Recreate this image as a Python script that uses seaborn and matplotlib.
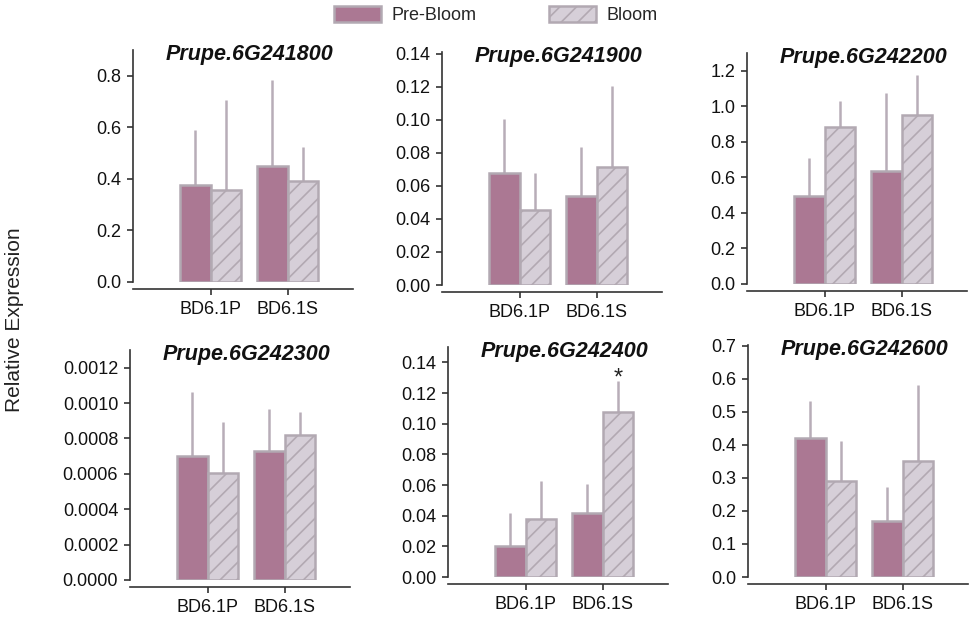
import numpy as np
import pandas as pd
import matplotlib
matplotlib.use("Agg")
import matplotlib.pyplot as plt
from matplotlib.patches import Patch
from matplotlib.ticker import FormatStrFormatter
import seaborn as sns

# ---------------- data ----------------
genes = ["Prupe.6G241800", "Prupe.6G241900", "Prupe.6G242200",
         "Prupe.6G242300", "Prupe.6G242400", "Prupe.6G242600"]
lines = ["BD6.1P", "BD6.1S"]
stages = ["Pre-Bloom", "Bloom"]

pre_bloom_mean = [[0.377, 0.450], [0.068, 0.054], [0.496, 0.634],
                  [0.000699, 0.000731], [0.0202, 0.042], [0.420, 0.171]]
pre_bloom_sd = [[0.211, 0.332], [0.0327, 0.0296], [0.213, 0.441],
                [0.000366, 0.000234], [0.0218, 0.0187], [0.112, 0.101]]
bloom_mean = [[0.357, 0.393], [0.0453, 0.0715], [0.886, 0.953],
              [0.000605, 0.000819], [0.0381, 0.1074], [0.292, 0.351]]
bloom_sd = [[0.350, 0.130], [0.0226, 0.0489], [0.142, 0.224],
            [0.000289, 0.000133], [0.0243, 0.0206], [0.121, 0.231]]

y_ticks = [np.arange(0, 0.81, 0.2), np.arange(0, 0.141, 0.02), np.arange(0, 1.21, 0.2),
           np.arange(0, 0.00121, 0.0002), np.arange(0, 0.141, 0.02), np.arange(0, 0.71, 0.1)]
y_fmt = ["%.1f", "%.2f", "%.1f", "%.4f", "%.2f", "%.1f"]
y_top = [0.9, 0.141, 1.3, 0.0013, 0.15, 0.703]
signif = [None, None, None, None, (1, "Bloom"), None]   # (line index, stage) marked with *

# ---------------- style ----------------
sns.set_theme(style="ticks")
plt.rcParams["font.family"] = ["Liberation Sans", "DejaVu Sans"]
plt.rcParams["hatch.linewidth"] = 1.2
plt.rcParams["hatch.color"] = "#988c98"

PINK = "#ab7893"
LIGHT = "#d6cfd8"
EDGE = "#b2a9b2"
ERR = "#b8adb8"
HATCH = "#988c98"
AX = "#333333"

W, H = 972, 627
fig = plt.figure(figsize=(W / 100, H / 100), dpi=100)

# panel pixel geometry: (left, top, zero-baseline)
geom = [(133, 50, 282), (442, 52, 285), (747, 53, 284),
        (130, 350, 580), (448, 347, 577), (748, 345, 577)]
width_px = 220


def style_hatch(patch):
    patch.set_hatch("//")
    if hasattr(patch, "set_hatchcolor"):
        patch.set_hatchcolor(HATCH)


for k, gene in enumerate(genes):
    l, t, b = geom[k]
    ax = fig.add_axes([l / W, (H - b) / H, width_px / W, (b - t) / H])
    df = pd.DataFrame({
        "line": lines * 2,
        "stage": [stages[0]] * 2 + [stages[1]] * 2,
        "value": list(pre_bloom_mean[k]) + list(bloom_mean[k]),
    })
    sds = {stages[0]: pre_bloom_sd[k], stages[1]: bloom_sd[k]}
    sns.barplot(data=df, x="line", y="value", hue="stage", order=lines,
                hue_order=stages, palette={stages[0]: PINK, stages[1]: LIGHT},
                width=0.8, errorbar=None, edgecolor=EDGE, linewidth=1.8,
                legend=False, ax=ax, zorder=3, saturation=1)
    bar_containers = list(ax.containers)
    for ci, cont in enumerate(bar_containers):
        st = stages[ci]
        for j, bar in enumerate(cont):
            if st == "Bloom":
                style_hatch(bar)
            x = bar.get_x() + bar.get_width() / 2
            h = bar.get_height()
            ax.errorbar(x, h, yerr=[[0], [sds[st][j]]], fmt="none",
                        ecolor=ERR, elinewidth=1.8, capsize=0, zorder=2)
            if signif[k] is not None and signif[k] == (j, st):
                ax.annotate("*", xy=(x, h + sds[st][j]), xytext=(0, -3),
                            textcoords="offset points", ha="center",
                            va="baseline", fontsize=17, color="#222222")
    ax.set_xlim(-1.01, 1.85)
    ax.set_ylim(0, y_top[k])
    ax.set_yticks(y_ticks[k])
    ax.yaxis.set_major_formatter(FormatStrFormatter(y_fmt[k]))
    ax.set_xlabel("")
    ax.set_ylabel("")
    for s in ["top", "right"]:
        ax.spines[s].set_visible(False)
    ax.spines["bottom"].set_position(("outward", 5))
    for s in ["left", "bottom"]:
        ax.spines[s].set_color(AX)
        ax.spines[s].set_linewidth(1.2)
    ax.tick_params(axis="both", colors=AX, labelcolor="#111111", labelsize=13,
                   length=4.5, width=1.2, pad=4)
    ax.annotate(gene, xy=(0.5, 1), xycoords=("data", "axes fraction"),
                xytext=(0, -3), textcoords="offset points", ha="center",
                va="center", fontsize=15.5, fontweight="bold", fontstyle="italic",
                color="#111111", annotation_clip=False)

fig.text(15 / W, 1 - 320 / H, "Relative Expression", rotation=90,
         ha="center", va="center", fontsize=15, color="#222222")

leg_bloom = Patch(facecolor=LIGHT, edgecolor=EDGE, linewidth=1.8, label=stages[1])
style_hatch(leg_bloom)
handles = [Patch(facecolor=PINK, edgecolor=EDGE, linewidth=1.8, label=stages[0]),
           leg_bloom]
fig.legend(handles=handles, loc="center", bbox_to_anchor=(496 / W, 1 - 15 / H),
           ncol=2, frameon=False, fontsize=13, handlelength=2.6, handleheight=1.0,
           handletextpad=0.6, columnspacing=4.0)

fig.savefig("out.png", dpi=100, facecolor="white")
